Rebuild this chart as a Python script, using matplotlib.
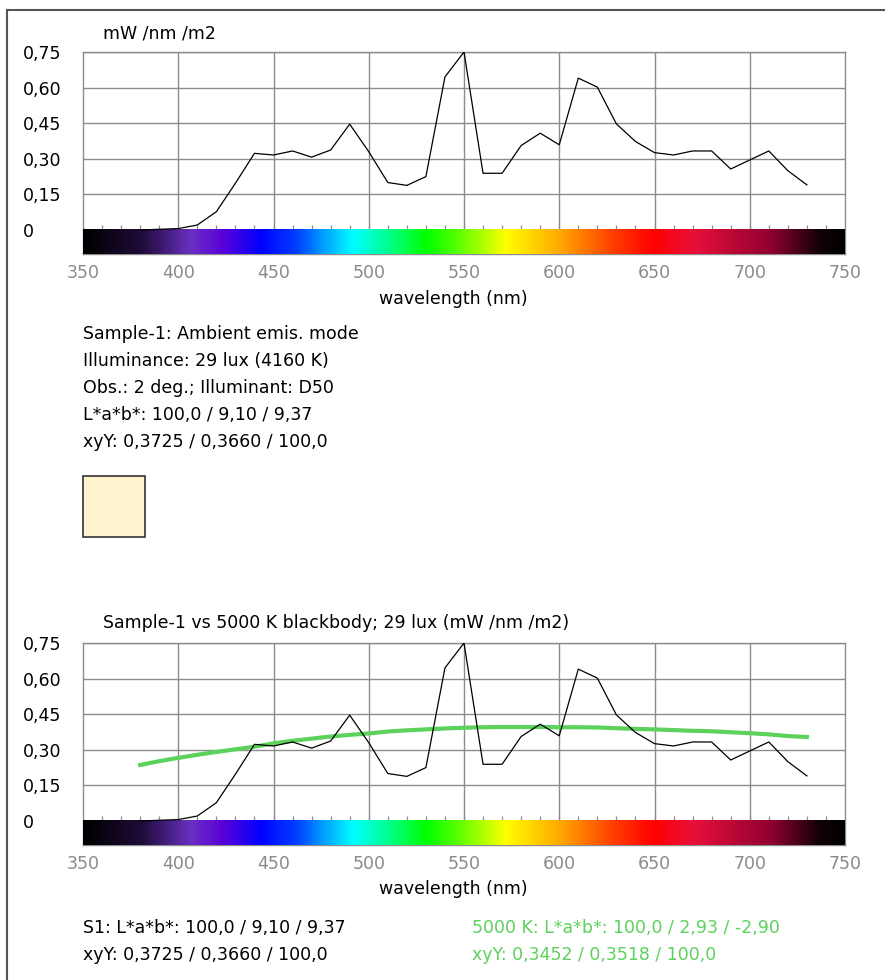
#
# plot.py
#

# Spectral irradiance of Sample-1, alone and against a 5000 K blackbody.

import numpy as np
import matplotlib
matplotlib.use('Agg')
from matplotlib import pyplot as plt
from matplotlib.colors import LinearSegmentedColormap
from matplotlib.lines import Line2D
from matplotlib.patches import Rectangle

plt.rcParams['font.family'] = ['DejaVu Sans']

# --- data -------------------------------------------------------------------
wavelength = np.arange(380, 740, 10)
sample = [0.0, 0.003, 0.006, 0.021, 0.077, 0.197, 0.323, 0.316, 0.333, 0.307,
          0.337, 0.446, 0.33, 0.20, 0.188, 0.225, 0.645, 0.75, 0.239, 0.239,
          0.356, 0.408, 0.359, 0.64, 0.602, 0.447, 0.373, 0.326, 0.316, 0.333,
          0.333, 0.257, 0.295, 0.333, 0.25, 0.19]
blackbody = [0.236, 0.252, 0.266, 0.279, 0.291, 0.302, 0.313, 0.327, 0.338, 0.347,
             0.356, 0.363, 0.369, 0.377, 0.382, 0.386, 0.390, 0.393, 0.395, 0.396,
             0.396, 0.396, 0.395, 0.395, 0.394, 0.391, 0.388, 0.386, 0.383, 0.380,
             0.378, 0.374, 0.370, 0.365, 0.358, 0.354]

yticks = [0, 0.15, 0.30, 0.45, 0.60, 0.75]
ytick_labels = ['0', '0,15', '0,30', '0,45', '0,60', '0,75']
xticks = [350, 400, 450, 500, 550, 600, 650, 700, 750]
minor_ticks = np.arange(360, 750, 10)

info_lines = ['Sample-1: Ambient emis. mode',
              'Illuminance: 29 lux (4160 K)',
              'Obs.: 2 deg.; Illuminant: D50',
              'L*a*b*: 100,0 / 9,10 / 9,37',
              'xyY: 0,3725 / 0,3660 / 100,0']
s1_lines = ['S1: L*a*b*: 100,0 / 9,10 / 9,37',
            'xyY: 0,3725 / 0,3660 / 100,0']
bb_lines = ['5000 K: L*a*b*: 100,0 / 2,93 / -2,90',
            'xyY: 0,3452 / 0,3518 / 100,0']

# visible spectrum strip under the plot (wavelength, colour)
spectrum_stops = [(350, '#000000'), (380, '#1e0c38'), (406, '#6a30c0'),
                  (423, '#5a00d8'), (443, '#0000ff'), (462, '#0040ff'),
                  (476, '#00a0ff'), (492, '#00ffff'), (510, '#00ff90'),
                  (530, '#00ff00'), (548, '#60ff00'), (572, '#ffff00'),
                  (603, '#ffa000'), (628, '#ff4000'), (650, '#ff0000'),
                  (671, '#e8103a'), (712, '#900030'), (738, '#100008'),
                  (750, '#000000')]

GREEN = '#5cd25c'
GRID = '#8c8c8c'
FS = 12.5

W, H = 885, 980
fig = plt.figure(figsize=(W / 100, H / 100), dpi=100)

spec_cmap = LinearSegmentedColormap.from_list(
    'spectrum', [((w - 350) / 400, c) for w, c in spectrum_stops])


def fx(px):
    return px / W


def fy(py):
    return 1 - py / H


def draw_panel(top_px, bottom_px):
    ax = fig.add_axes([fx(83), fy(bottom_px), fx(845 - 83), (bottom_px - top_px) / H])
    ymin = -24 / 237.3
    ax.set_xlim(350, 750)
    ax.set_ylim(ymin, 0.75)
    ax.imshow(np.linspace(0, 1, 800)[None, :], cmap=spec_cmap, aspect='auto',
              extent=[350, 750, ymin, 0], zorder=3)
    ax.set_xticks(xticks)
    ax.set_xticklabels([str(x) for x in xticks])
    ax.set_yticks(yticks)
    ax.set_yticklabels(ytick_labels)
    ax.tick_params(axis='x', length=0, pad=7, labelsize=FS, labelcolor='#8a8a8a')
    ax.tick_params(axis='y', length=0, pad=43, labelsize=FS)
    for lab in ax.get_yticklabels():
        lab.set_horizontalalignment('left')
    for gx in xticks[1:-1]:
        ax.axvline(gx, color=GRID, lw=1.0, zorder=1)
    for gy in yticks[1:]:
        ax.axhline(gy, color=GRID, lw=1.0, zorder=1)
    ax.vlines(minor_ticks, 0, 0.02, color='#8c8c8c', lw=0.9, zorder=1)
    for s in ax.spines.values():
        s.set_color(GRID)
        s.set_linewidth(1.0)
    ax.plot(wavelength, sample, color='black', lw=0.9, zorder=5)
    return ax


# --- top panel --------------------------------------------------------------
ax1 = draw_panel(52, 254)
fig.text(fx(103), fy(33), 'mW /nm /m2', fontsize=FS, va='center')
fig.text(fx(453), fy(299), 'wavelength (nm)', fontsize=FS, ha='center', va='center')

for i, line in enumerate(info_lines):
    fig.text(fx(83), fy(334 + 27 * i), line, fontsize=FS, va='center')

fig.patches.append(Rectangle((fx(83), fy(537)), fx(145 - 83), (537 - 476) / H,
                             transform=fig.transFigure, facecolor='#fff2cc',
                             edgecolor='#333333', lw=1.2))

# --- bottom panel -----------------------------------------------------------
ax2 = draw_panel(643, 845)
ax2.plot(wavelength, blackbody, color=GREEN, lw=3.0, zorder=4)
fig.text(fx(103), fy(623), 'Sample-1 vs 5000 K blackbody; 29 lux (mW /nm /m2)',
         fontsize=FS, va='center')
fig.text(fx(453), fy(889), 'wavelength (nm)', fontsize=FS, ha='center', va='center')

for i, line in enumerate(s1_lines):
    fig.text(fx(83), fy(928 + 27 * i), line, fontsize=FS, va='center')
for i, line in enumerate(bb_lines):
    fig.text(fx(472), fy(928 + 27 * i), line, fontsize=FS, va='center', color=GREEN)

# window frame: top and left edges only
fig.lines.append(Line2D([fx(7), 1], [fy(10), fy(10)], transform=fig.transFigure,
                        color='#555555', lw=1.5))
fig.lines.append(Line2D([fx(7), fx(7)], [fy(10), 0], transform=fig.transFigure,
                        color='#555555', lw=1.5))

fig.savefig('out.png', dpi=100)
